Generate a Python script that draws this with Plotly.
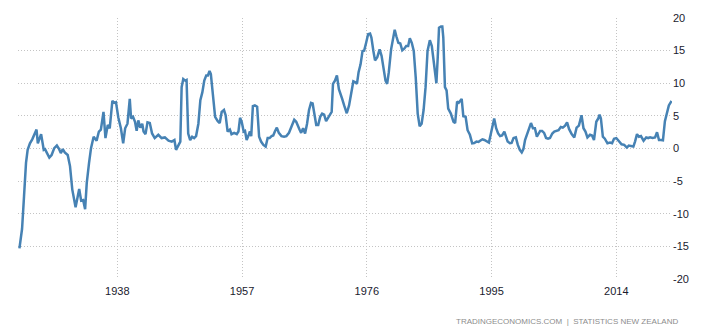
import plotly.graph_objects as go

years = [
    1923.1, 1923.5, 1923.8, 1924.1, 1924.35, 1924.7, 1925.05, 1925.4, 1925.7, 1925.9,
    1926.4, 1926.8, 1927.0, 1927.3, 1927.65, 1928.0, 1928.4, 1928.8, 1929.1, 1929.4,
    1929.7, 1930.0, 1930.45, 1930.8, 1931.15, 1931.65, 1932.2, 1932.5, 1932.8, 1933.1,
    1933.35, 1933.7, 1934.0, 1934.4, 1934.85, 1935.2, 1935.5, 1935.9, 1936.2, 1936.55,
    1936.85, 1937.25, 1937.55, 1937.8, 1938.15, 1938.55, 1938.9, 1939.2, 1939.55, 1939.9,
    1940.1, 1940.4, 1940.7, 1940.95, 1941.2, 1941.5, 1941.8, 1942.0, 1942.3, 1942.6,
    1942.95, 1943.3, 1943.7, 1944.25, 1944.75, 1945.25, 1945.8, 1946.3, 1946.7, 1946.95,
    1947.3, 1947.6, 1947.8, 1948.05, 1948.35, 1948.55, 1948.8, 1949.1, 1949.4, 1949.7,
    1950.0, 1950.35, 1950.65, 1950.95, 1951.25, 1951.55, 1951.8, 1952.05, 1952.25, 1952.6,
    1952.9, 1953.3, 1953.6, 1953.9, 1954.25, 1954.5, 1954.8, 1955.15, 1955.4, 1955.8,
    1956.2, 1956.45, 1956.7, 1956.95, 1957.25, 1957.45, 1957.7, 1957.95, 1958.2, 1958.4,
    1958.65, 1958.95, 1959.3, 1959.6, 1959.9, 1960.25, 1960.6, 1960.9, 1961.2, 1961.5,
    1961.75, 1962.0, 1962.3, 1962.6, 1963.0, 1963.4, 1963.75, 1964.15, 1964.55, 1964.95,
    1965.25, 1965.5, 1965.75, 1966.0, 1966.3, 1966.6, 1966.9, 1967.2, 1967.5, 1967.75,
    1968.0, 1968.3, 1968.6, 1968.9, 1969.2, 1969.5, 1969.8, 1970.05, 1970.35, 1970.65,
    1970.85, 1971.15, 1971.45, 1971.75, 1971.95, 1972.25, 1972.55, 1972.95, 1973.3, 1973.6,
    1973.95, 1974.2, 1974.5, 1974.75, 1975.05, 1975.35, 1975.6, 1975.9, 1976.2, 1976.5,
    1976.7, 1977.0, 1977.25, 1977.6, 1977.95, 1978.25, 1978.55, 1978.85, 1979.1, 1979.35,
    1979.7, 1980.0, 1980.25, 1980.5, 1980.8, 1981.1, 1981.4, 1981.7, 1982.0, 1982.3,
    1982.55, 1982.85, 1983.15, 1983.45, 1983.75, 1984.05, 1984.35, 1984.65, 1984.95, 1985.25,
    1985.6, 1985.9, 1986.1, 1986.4, 1986.6, 1986.8, 1987.0, 1987.3, 1987.5, 1987.65,
    1987.9, 1988.15, 1988.4, 1988.8, 1989.2, 1989.45, 1989.75, 1990.0, 1990.45, 1990.7,
    1991.05, 1991.35, 1991.7, 1992.05, 1992.35, 1992.7, 1993.0, 1993.25, 1993.6, 1993.9,
    1994.25, 1994.6, 1994.9, 1995.2, 1995.4, 1995.7, 1996.0, 1996.3, 1996.6, 1996.95,
    1997.2, 1997.45, 1997.8, 1998.05, 1998.35, 1998.7, 1999.0, 1999.3, 1999.6, 1999.85,
    2000.1, 2000.4, 2000.7, 2001.0, 2001.3, 2001.6, 2001.9, 2002.1, 2002.4, 2002.7,
    2003.0, 2003.3, 2003.6, 2003.9, 2004.25, 2004.55, 2004.9, 2005.2, 2005.55, 2005.85,
    2006.2, 2006.5, 2006.8, 2007.0, 2007.2, 2007.6, 2007.95, 2008.3, 2008.7, 2009.0,
    2009.3, 2009.6, 2010.0, 2010.3, 2010.6, 2010.95, 2011.25, 2011.45, 2011.65, 2011.95,
    2012.25, 2012.65, 2013.05, 2013.35, 2013.65, 2014.0, 2014.4, 2014.8, 2015.2, 2015.6,
    2015.9, 2016.25, 2016.6, 2016.85, 2017.15, 2017.45, 2017.75, 2018.15, 2018.55, 2018.85,
    2019.15, 2019.5, 2019.9, 2020.2, 2020.5, 2020.8, 2021.1, 2021.4, 2021.7, 2022.0,
    2022.3, 2022.4,
]

inflation = [
    -15.3, -12.3, -7.3, -2.2, -0.2, 0.8, 1.4, 2.1, 2.9, 0.8,
    2.2, -0.2, -0.1, -0.7, -1.4, -1.0, 0.05, 0.45, 0.0, -0.7,
    -0.1, -0.6, -1.0, -2.7, -6.3, -9.0, -6.2, -8.0, -7.9, -9.3,
    -5.3, -2.2, 0.05, 1.8, 1.2, 2.6, 2.9, 5.6, 1.6, 3.6,
    3.1, 7.3, 7.0, 7.1, 4.8, 3.1, 0.8, 3.1, 3.8, 7.6,
    4.6, 4.85, 4.1, 2.7, 4.3, 3.2, 3.8, 2.6, 2.2, 4.0,
    3.9, 2.3, 1.6, 2.1, 1.6, 1.7, 1.2, 1.06, 1.3, -0.2,
    0.6, 1.06, 9.4, 10.65, 10.4, 10.5, 2.3, 1.3, 1.8, 1.6,
    1.9, 3.8, 7.4, 8.6, 10.4, 11.2, 11.2, 11.9, 11.4, 7.9,
    4.85, 4.2, 3.9, 5.6, 5.9, 5.1, 2.6, 2.9, 2.2, 2.4,
    2.2, 2.6, 4.7, 4.1, 2.6, 2.7, 1.3, 1.9, 2.6, 1.9,
    6.5, 6.6, 6.4, 1.8, 1.06, 0.55, 0.3, 1.6, 1.6, 1.9,
    2.0, 2.6, 3.2, 2.4, 1.9, 1.8, 1.9, 2.4, 3.3, 4.4,
    4.1, 3.4, 2.9, 2.4, 3.1, 2.3, 3.8, 5.9, 7.0, 6.9,
    5.35, 3.6, 3.6, 4.85, 5.35, 5.2, 4.2, 4.7, 5.1, 5.6,
    9.9, 10.4, 11.2, 9.1, 8.6, 7.6, 6.6, 5.4, 6.6, 8.4,
    10.3, 10.2, 9.9, 11.7, 12.9, 14.95, 15.0, 16.2, 17.5, 17.6,
    17.0, 14.95, 13.5, 14.0, 15.2, 14.2, 11.9, 10.4, 9.9, 11.7,
    15.2, 17.2, 18.2, 17.2, 16.2, 16.1, 15.05, 15.3, 15.7, 15.7,
    16.9, 16.2, 14.95, 10.9, 5.35, 3.4, 3.8, 5.9, 9.4, 14.95,
    16.6, 15.7, 13.9, 10.9, 10.0, 13.9, 18.5, 18.7, 18.7, 17.0,
    9.4, 8.9, 6.1, 5.35, 4.1, 3.9, 7.2, 7.0, 7.6, 4.95,
    4.85, 2.8, 2.1, 0.8, 0.85, 1.06, 1.0, 1.2, 1.4, 1.3,
    1.06, 0.9, 2.3, 3.9, 4.6, 3.1, 2.3, 1.9, 2.0, 2.6,
    1.8, 1.06, 0.8, 0.85, 1.6, 1.7, 0.55, -0.2, -0.6, -0.1,
    1.3, 2.1, 2.8, 3.9, 3.1, 3.1, 1.8, 2.1, 2.7, 2.7,
    2.4, 1.6, 1.5, 1.6, 2.3, 2.6, 2.7, 2.8, 3.3, 3.2,
    3.5, 4.0, 3.0, 2.5, 2.2, 1.7, 3.2, 3.5, 5.1, 3.1,
    2.6, 1.7, 2.1, 2.0, 1.3, 4.1, 4.6, 5.2, 4.6, 1.8,
    1.5, 0.8, 0.9, 0.8, 1.5, 1.6, 1.2, 0.65, 0.55, 0.15,
    0.45, 0.4, 0.3, 1.06, 2.2, 1.8, 1.9, 1.2, 1.7, 1.6,
    1.7, 1.6, 1.7, 2.5, 1.3, 1.3, 1.25, 4.2, 5.6, 6.6,
    7.1, 7.3,
]

x_ticks = [1938, 1957, 1976, 1995, 2014]
y_ticks = [20, 15, 10, 5, 0, -5, -10, -15, -20]
source_text = "TRADINGECONOMICS.COM\u00a0\u00a0|\u00a0\u00a0STATISTICS NEW ZEALAND"

fig = go.Figure()
fig.add_trace(go.Scatter(
    x=years, y=inflation, mode="lines",
    line=dict(color="#4682b4", width=2.5),
    hoverinfo="skip", showlegend=False,
))

tick_font = dict(family="Liberation Sans, Arial, sans-serif", size=11, color="#1a1a2e")
grid_style = dict(showgrid=True, gridcolor="#c4c4c4", griddash="1px,2px", gridwidth=1)

fig.update_layout(
    width=726, height=330,
    margin=dict(l=18, r=54, t=15, b=51),
    paper_bgcolor="white", plot_bgcolor="white",
    xaxis=dict(
        range=[1922.88, 2022.48],
        tickvals=x_ticks, ticktext=[str(t) for t in x_ticks],
        zeroline=False, showline=False, ticks="",
        tickfont=tick_font, ticklabelstandoff=4,
        **grid_style,
    ),
    yaxis=dict(
        range=[-20, 20], side="right",
        tickvals=y_ticks, ticktext=[str(t) for t in y_ticks],
        zeroline=False, showline=False, ticks="",
        tickfont=tick_font,
        **grid_style,
    ),
    annotations=[dict(
        text=source_text, xref="paper", yref="paper",
        x=1.0122, y=-0.1617, xanchor="right", yanchor="middle",
        showarrow=False,
        font=dict(family="Liberation Sans, Arial, sans-serif", size=8, color="#8c8c8c"),
    )],
)

fig.write_html("out.html")
